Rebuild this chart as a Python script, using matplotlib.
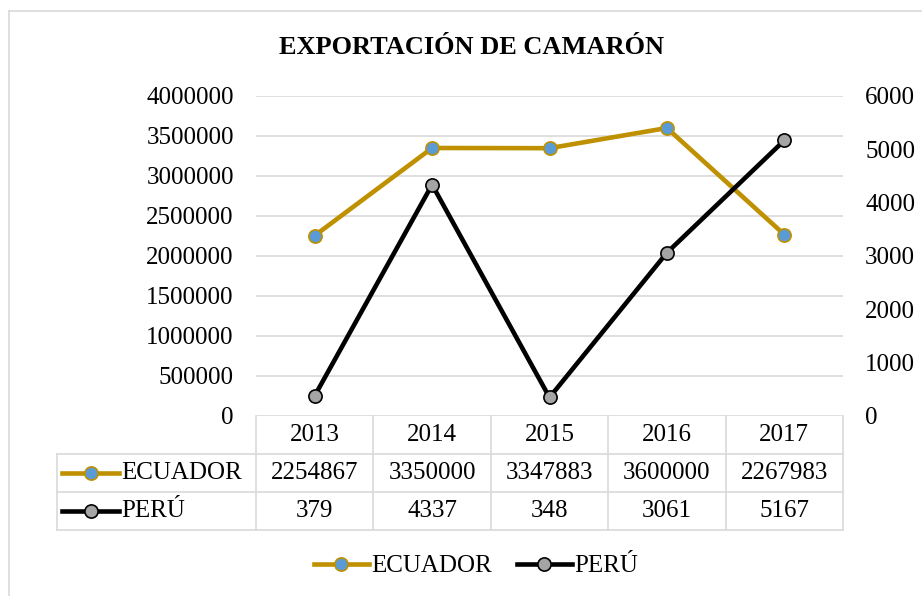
import matplotlib.pyplot as plt
from matplotlib.lines import Line2D
from matplotlib.transforms import blended_transform_factory

plt.rcParams['font.family'] = ['Liberation Serif', 'DejaVu Serif']

TITLE = 'EXPORTACIÓN DE CAMARÓN'
years = ['2013', '2014', '2015', '2016', '2017']
series_names = ['ECUADOR', 'PERÚ']
ecuador = [2254867, 3350000, 3347883, 3600000, 2267983]
peru = [379, 4337, 348, 3061, 5167]
left_ticks = [0, 500000, 1000000, 1500000, 2000000, 2500000, 3000000, 3500000, 4000000]
right_ticks = [0, 1000, 2000, 3000, 4000, 5000, 6000]

GOLD = '#BF9000'
BLUE = '#5B9BD5'
GRAY = '#A5A5A5'
GRID = '#D9D9D9'
FS = 18

W, H = 922, 596
fig = plt.figure(figsize=(W / 100, H / 100), dpi=100)


def box(x0, y0, x1, y1):
  # pixel box (top-left origin) -> figure fraction rect
  return [x0 / W, 1 - y1 / H, (x1 - x0) / W, (y1 - y0) / H]


ax = fig.add_axes(box(256, 96, 843, 416))
ax2 = ax.twinx()
xs = list(range(len(years)))

styles = {
  'ECUADOR': dict(color=GOLD, lw=3.3, marker='o', ms=9.5, mfc=BLUE, mec=GOLD, mew=1.2),
  'PERÚ': dict(color='black', lw=3.3, marker='o', ms=9.5, mfc=GRAY, mec='black', mew=1.2),
}

ax.plot(xs, ecuador, **styles['ECUADOR'], zorder=3)
ax2.plot(xs, peru, **styles['PERÚ'], zorder=3)

ax.set_xlim(-0.5, len(years) - 0.5)
ax.set_ylim(left_ticks[0], left_ticks[-1])
ax2.set_ylim(right_ticks[0], right_ticks[-1])
ax.set_yticks(left_ticks, [str(v) for v in left_ticks])
ax2.set_yticks(right_ticks, [str(v) for v in right_ticks])
ax.set_xticks([])
ax.grid(axis='y', color=GRID, lw=1.2)
ax.set_axisbelow(True)
for a in (ax, ax2):
  for s in a.spines.values():
    s.set_visible(False)
  a.tick_params(axis='y', length=0, labelsize=FS, pad=16)

# data table under the axis
trans = blended_transform_factory(ax.transData, ax.transAxes)
row_h = 38.0 / 320
label_left = -0.5 - 199 / 117.4
right = len(years) - 0.5
tab_kw = dict(color=GRID, lw=1.2, transform=trans, clip_on=False)

for i in range(len(years) + 1):
  ax.add_line(Line2D([i - 0.5, i - 0.5], [0, -3 * row_h], **tab_kw))
for r in (1, 2, 3):
  ax.add_line(Line2D([label_left, right], [-r * row_h, -r * row_h], **tab_kw))
ax.add_line(Line2D([label_left, label_left], [-row_h, -3 * row_h], **tab_kw))

for i, yr in enumerate(years):
  ax.text(i, -0.5 * row_h, yr, transform=trans, ha='center', va='center', fontsize=FS)
  ax.text(i, -1.5 * row_h, str(ecuador[i]), transform=trans, ha='center', va='center', fontsize=FS)
  ax.text(i, -2.5 * row_h, str(peru[i]), transform=trans, ha='center', va='center', fontsize=FS)

for r, name in enumerate(series_names):
  yy = -(r + 1.5) * row_h
  icon_x0 = label_left + 5 / 117.4
  icon_x1 = label_left + 62 / 117.4
  st = dict(styles[name])
  ax.add_line(Line2D([icon_x0, (icon_x0 + icon_x1) / 2, icon_x1], [yy, yy, yy], markevery=[1],
                     transform=trans, clip_on=False, **st))
  ax.text(icon_x1 + 2 / 117.4, yy, name, transform=trans, ha='left', va='center', fontsize=FS)

# legend
handles = [Line2D([], [], **styles[n]) for n in series_names]
fig.legend(handles, series_names, loc='center', bbox_to_anchor=(476 / W, 1 - 566 / H),
           ncol=2, frameon=False, fontsize=FS, handlelength=2.2, handletextpad=0.1,
           columnspacing=1.0)

fig.text(472 / W, 1 - 48 / H, TITLE, ha='center', va='center', fontsize=19, fontweight='bold')

# chart area border
fig.add_artist(Line2D([9 / W, 1], [1 - 11 / H, 1 - 11 / H], color=GRID, lw=1.2, transform=fig.transFigure))
fig.add_artist(Line2D([9 / W, 9 / W], [1 - 11 / H, 0], color=GRID, lw=1.2, transform=fig.transFigure))

fig.savefig('out.png', dpi=100)
